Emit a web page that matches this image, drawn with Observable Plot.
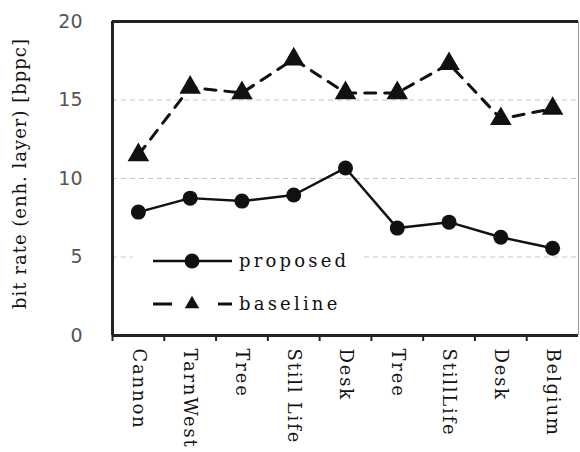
<!DOCTYPE html>
<html><head><meta charset="utf-8">
<script src="https://cdn.jsdelivr.net/npm/d3@7"></script>
<script src="https://cdn.jsdelivr.net/npm/@observablehq/plot@0.6"></script>
<style>
body{margin:0;background:#fff}
#chart svg g[aria-label="x-axis tick label"] text{letter-spacing:1.8px}
#chart svg g[aria-label="text"] text{letter-spacing:1px}
</style>
</head><body><div id="chart"></div>
<script>
const categories = ["Cannon","TarnWest","Tree","Still Life","Desk","Tree","StillLife","Desk","Belgium"];
const proposed = [7.86, 8.75, 8.56, 8.95, 10.67, 6.84, 7.22, 6.26, 5.56];
const baseline = [11.5, 15.8, 15.45, 17.6, 15.45, 15.45, 17.3, 13.8, 14.45];
const yTicks = [0, 5, 10, 15, 20];
const gridValues = [5, 10, 15];
const seriesNames = ["proposed", "baseline"];
const yLabel = "bit rate (enh. layer) [bppc]";

const idx = categories.map((_, i) => i);
const boundaries = d3.range(-0.5, categories.length - 1, 1);
const ink = "#111";

function legendMark(index, scales, values, dimensions) {
  const L = dimensions.marginLeft, T = dimensions.marginTop;
  const g = d3.create("svg:g");
  g.append("rect").attr("x", L + 21).attr("y", T + 218).attr("width", 230).attr("height", 100).attr("fill", "#fff");
  const rows = [T + 240, T + 283];
  // proposed
  g.append("line").attr("x1", L + 41).attr("x2", L + 120).attr("y1", rows[0]).attr("y2", rows[0])
    .attr("stroke", ink).attr("stroke-width", 2.5);
  g.append("circle").attr("cx", L + 80).attr("cy", rows[0]).attr("r", 7.5).attr("fill", ink);
  // baseline
  g.append("line").attr("x1", L + 41).attr("x2", L + 120).attr("y1", rows[1]).attr("y2", rows[1])
    .attr("stroke", ink).attr("stroke-width", 3).attr("stroke-dasharray", "19,46");
  g.append("path").attr("d", d3.symbol(d3.symbolTriangle, 90)()).attr("transform", `translate(${L + 80},${rows[1]})`).attr("fill", ink);
  seriesNames.forEach((s, i) => {
    g.append("text").attr("x", L + 127).attr("y", rows[i]).attr("dy", "0.32em")
      .attr("text-anchor", "start")
      .attr("font-family", "DejaVu Serif").attr("font-size", 18).attr("letter-spacing", "3.2px")
      .attr("fill", ink).text(s);
  });
  return g.node();
}

const chart = Plot.plot({
  width: 580,
  height: 452,
  marginLeft: 112,
  marginRight: 2,
  marginTop: 21,
  marginBottom: 117,
  x: {type: "linear", domain: [-0.5, categories.length - 0.5]},
  y: {domain: [0, 20]},
  marks: [
    Plot.ruleY(gridValues, {stroke: "#c4c4c4", strokeDasharray: "5,4", strokeWidth: 1}),
    legendMark,
    Plot.line(idx, {x: i => i, y: i => proposed[i], stroke: ink, strokeWidth: 2.5}),
    Plot.line(idx, {x: i => i, y: i => baseline[i], stroke: ink, strokeWidth: 3, strokeDasharray: "11,9"}),
    Plot.dot(idx, {x: i => i, y: i => proposed[i], r: 7.5, fill: ink}),
    Plot.dot(idx, {x: i => i, y: i => baseline[i], r: 8, symbol: "triangle", fill: ink}),
    Plot.axisY({ticks: yTicks, tickSize: 0, tickPadding: 30, fontFamily: "DejaVu Sans", fontSize: 19, color: "#555", label: null}),
    Plot.axisX({ticks: idx, tickFormat: i => categories[i], tickSize: 0, tickPadding: 13, tickRotate: 90, fontFamily: "DejaVu Serif", fontSize: 18, color: ink, label: null}),
    Plot.axisX({ticks: boundaries, tickFormat: () => "", tickSize: 6, strokeWidth: 2, color: "#222", label: null}),
    Plot.ruleX([categories.length - 0.5], {stroke: "#999", strokeWidth: 1}),
    Plot.ruleY([20], {stroke: "#222", strokeWidth: 3}),
    Plot.ruleY([0], {stroke: "#222", strokeWidth: 3}),
    Plot.ruleX([-0.5], {stroke: "#222", strokeWidth: 3}),
    Plot.text([yLabel], {frameAnchor: "left", textAnchor: "middle", rotate: -90, dx: -92, dy: -5, fontFamily: "DejaVu Serif", fontSize: 18, fill: ink})
  ]
});
document.getElementById("chart").appendChild(chart);
</script>
</body></html>
